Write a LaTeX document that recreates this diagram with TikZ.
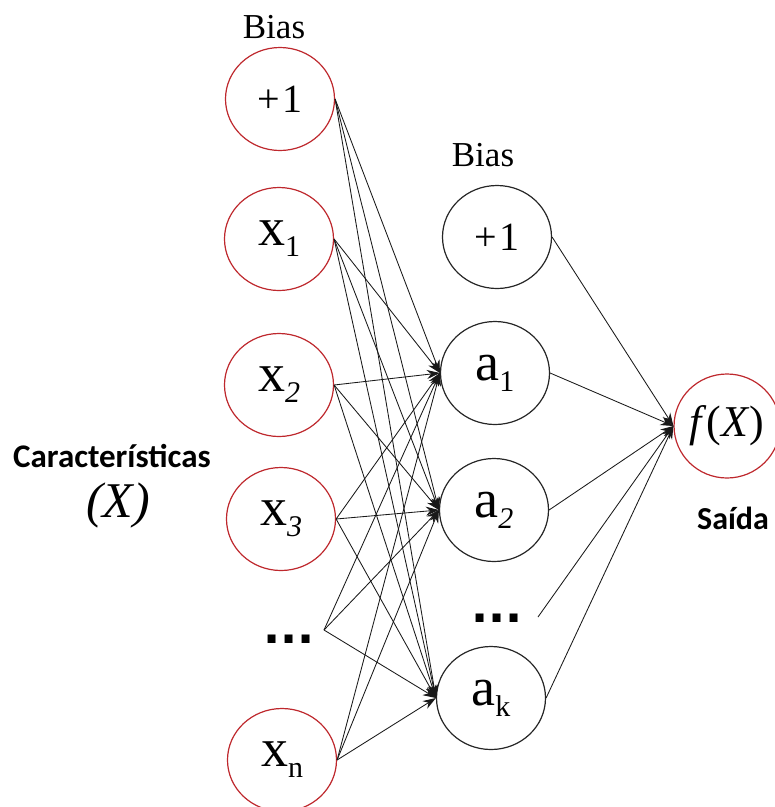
\documentclass[tikz,border=0pt]{standalone}
\usepackage{fontspec}
\setmainfont{Liberation Serif}
\newfontfamily\calibri{Carlito}
\newfontfamily\dejavu{DejaVu Sans}
\usetikzlibrary{shapes.geometric,arrows.meta}

\definecolor{neuronred}{RGB}{190,40,45}
\newcommand{\fsz}[1]{\fontsize{#1}{#1}\selectfont}
\newcommand{\neur}[2]{{\fsz{54}#1}\raisebox{-11pt}{\fsz{30}#2}}
\newcommand{\plusone}{{\fsz{40}+\hspace{3pt}1}}

\tikzset{
  inneuron/.style={ellipse, draw=neuronred, line width=1.2pt, minimum width=109pt, minimum height=103pt, inner sep=0pt},
  hidneuron/.style={ellipse, draw=black!85, line width=1.2pt, minimum width=109pt, minimum height=103pt, inner sep=0pt},
  conn/.style={draw=black!90, line width=0.85pt, -{Stealth[length=13pt,width=9pt]}},
  dotsnode/.style={font=\dejavu\bfseries\fsz{45}, inner sep=0pt}
}

\begin{document}
\begin{tikzpicture}[x=1pt,y=-1pt]
    \useasboundingbox (0,0) rectangle (775,807);

    % Camada de entrada (vermelha)
    \node[inneuron] (in0) at (280,99) {\plusone};
    \node[inneuron] (x1) at (279,239) {\neur{x}{1}};
    \node[inneuron] (x2) at (279,385) {\neur{x}{\textit{2}}};
    \node[inneuron] (x3) at (281,519) {\neur{x}{\textit{3}}};
    \node[inneuron] (xn) at (282,760) {\neur{x}{n}};
    \node[dotsnode] (dotsin) at (289,639) {...};
    \coordinate (pin) at (324,630);

    % Camada oculta (preta)
    \node[hidneuron] (h0) at (497,237) {\plusone};
    \node[hidneuron] (a1) at (495,373) {\neur{a}{1}};
    \node[hidneuron] (a2) at (494,510) {\neur{a}{\textit{2}}};
    \node[hidneuron] (ak) at (491,698) {\neur{a}{k}};
    \node[dotsnode] (dotsh) at (497,618) {...};
    \coordinate (ph) at (538,617);

    % Saida
    \node[ellipse, draw=neuronred, line width=1.2pt, minimum width=104pt, minimum height=104pt, inner sep=0pt] (fx) at (727,426) {\fsz{44}\textit{f}(\textit{X})};

    % Rotulos
    \node[font=\fsz{35}] (bias1) at (274,27) {Bias};
    \node[font=\fsz{35}] (bias2) at (483,155) {Bias};
    \node[font=\calibri\bfseries\fsz{33}] (carac) at (112,456) {Características};
    \node[font=\fsz{50}] (xlab) at (118,505) {\textit{(X)}};
    \node[font=\calibri\bfseries\fsz{32}] (saida) at (733,518) {Saída};

    % Ligacoes entrada -> oculta
    \path (in0.east) edge[conn] (a1.west) edge[conn] (a2.west) edge[conn] (ak.west);
    \path (x1.east) edge[conn] (a1.west) edge[conn] (a2.west) edge[conn] (ak.west);
    \path (x2.east) edge[conn] (a1.west) edge[conn] (a2.west) edge[conn] (ak.west);
    \path (x3.east) edge[conn] (a1.west) edge[conn] (a2.west) edge[conn] (ak.west);
    \path (pin) edge[conn] (a1.west) edge[conn] (a2.west) edge[conn] (ak.west);
    \path (xn.east) edge[conn] (a1.west) edge[conn] (a2.west) edge[conn] (ak.west);

    % Ligacoes oculta -> saida
    \path (h0.east) edge[conn] (fx.west);
    \path (a1.east) edge[conn] (fx.west);
    \path (a2.east) edge[conn] (fx.west);
    \path (ph) edge[conn] (fx.west);
    \path (ak.east) edge[conn] (fx.west);

\end{tikzpicture}
\end{document}
